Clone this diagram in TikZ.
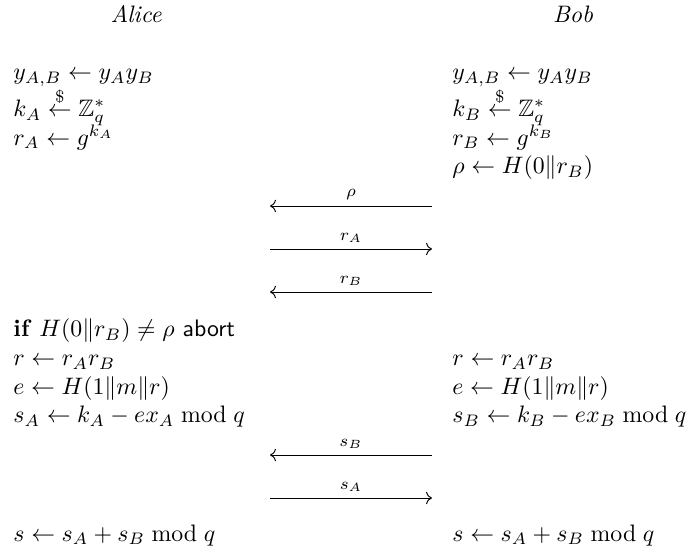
\documentclass[tikz,border=0pt]{standalone}
\usepackage{amsmath,amssymb}
\usepackage{tikz}
\usetikzlibrary{arrows.meta, calc, positioning}

\begin{document}
\begin{tikzpicture}[x=0.42pt, y=-0.42pt,
    step line/.style={anchor=base west, inner sep=0pt},
    party/.style={anchor=base, inner sep=0pt, font=\itshape},
    msg/.style={thin, ->},
    msg label/.style={above=2.5pt, inner sep=0pt, font=\scriptsize}]
    \useasboundingbox (0,0) rectangle (692,552);

    % Parteien
    \node[party] (alice) at (136,23) {Alice};
    \node[party] (bob) at (573,23) {Bob};

    % Alice, Vorberechnung
    \node[step line] (a1) at (13,80) {$y_{A,B} \leftarrow y_A y_B$};
    \node[step line] (a2) at (13,116.5) {$k_A \overset{\$}{\leftarrow} \mathbb{Z}_q^*$};
    \node[step line] (a3) at (13,145.1) {$r_A \leftarrow g^{k_A}$};

    % Bob, Vorberechnung
    \node[step line] (b1) at (452,80) {$y_{A,B} \leftarrow y_A y_B$};
    \node[step line] (b2) at (452,116.5) {$k_B \overset{\$}{\leftarrow} \mathbb{Z}_q^*$};
    \node[step line] (b3) at (452,145.1) {$r_B \leftarrow g^{k_B}$};
    \node[step line] (b4) at (452,173.7) {$\rho \leftarrow H(0\|r_B)$};

    % Nachrichten 1
    \coordinate (m1l) at (270,206); \coordinate (m1r) at (432,206);
    \coordinate (m2l) at (270,249); \coordinate (m2r) at (432,249);
    \coordinate (m3l) at (270,292); \coordinate (m3r) at (432,292);
    \draw[msg] (m1r) -- (m1l) node[midway, msg label] (l1) {$\rho$};
    \draw[msg] (m2l) -- (m2r) node[midway, msg label] (l2) {$r_A$};
    \draw[msg] (m3r) -- (m3l) node[midway, msg label] (l3) {$r_B$};

    % Signatur
    \node[step line] (a4) at (13,337) {\textbf{if} $H(0\|r_B) \neq \rho$ \textsf{abort}};
    \node[step line] (a5) at (13,365.6) {$r \leftarrow r_A r_B$};
    \node[step line] (a6) at (13,394.2) {$e \leftarrow H(1\|m\|r)$};
    \node[step line] (a7) at (13,422.8) {$s_A \leftarrow k_A - e x_A \bmod q$};

    \node[step line] (b5) at (452,365.6) {$r \leftarrow r_A r_B$};
    \node[step line] (b6) at (452,394.2) {$e \leftarrow H(1\|m\|r)$};
    \node[step line] (b7) at (452,422.8) {$s_B \leftarrow k_B - e x_B \bmod q$};

    % Nachrichten 2
    \coordinate (m4l) at (270,455); \coordinate (m4r) at (432,455);
    \coordinate (m5l) at (270,498); \coordinate (m5r) at (432,498);
    \draw[msg] (m4r) -- (m4l) node[midway, msg label] (l4) {$s_B$};
    \draw[msg] (m5l) -- (m5r) node[midway, msg label] (l5) {$s_A$};

    % Ergebnis
    \node[step line] (a8) at (13,541) {$s \leftarrow s_A + s_B \bmod q$};
    \node[step line] (b8) at (452,541) {$s \leftarrow s_A + s_B \bmod q$};
\end{tikzpicture}
\end{document}
